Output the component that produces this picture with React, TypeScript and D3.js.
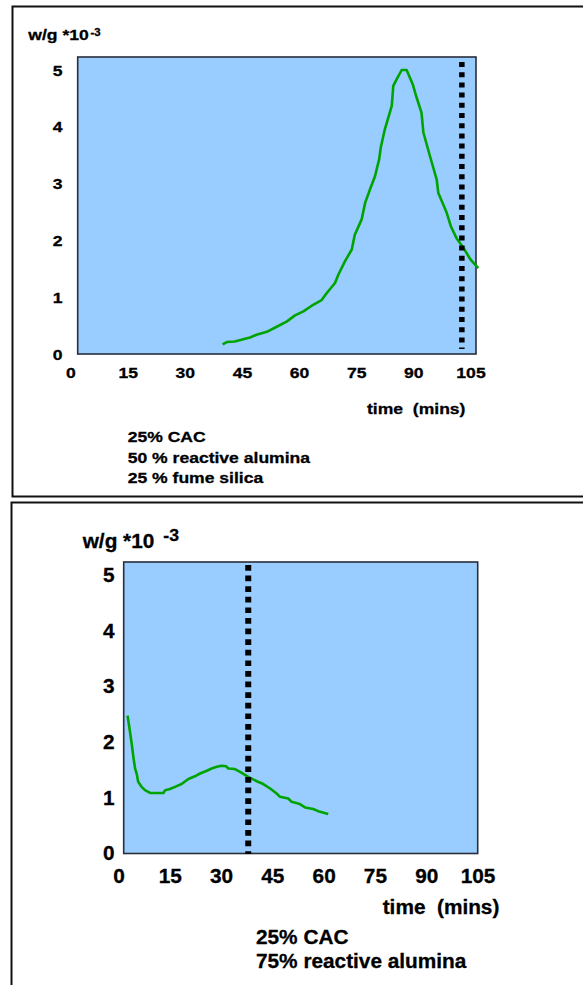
import React from "react";
import * as d3 from "d3";

// ---- data ----
const xTicks = [0, 15, 30, 45, 60, 75, 90, 105];
const yTicks = [0, 1, 2, 3, 4, 5];
const yLabel = "w/g *10";
const yLabelExp = "-3";
const xTitle = "time  (mins)";

const topTime = [39.8, 40.9, 43.0, 45.2, 47.0, 48.7, 51.4, 54.0, 56.6, 58.8, 61.0, 63.2, 65.8, 67.1, 69.3, 70.2, 71.9, 73.7, 74.5, 76.3, 77.2, 78.5, 79.8, 80.9, 81.3, 82.4, 84.2, 84.6, 85.5, 86.8, 88.1, 89.7, 90.7, 92.0, 92.5, 94.2, 96.0, 96.4, 98.6, 99.7, 101.2, 103.0, 104.9, 106.9];
const topRate = [0.17, 0.21, 0.22, 0.26, 0.29, 0.34, 0.39, 0.48, 0.57, 0.68, 0.75, 0.85, 0.95, 1.07, 1.25, 1.40, 1.63, 1.84, 2.10, 2.37, 2.66, 2.90, 3.13, 3.43, 3.63, 3.96, 4.37, 4.72, 4.84, 5.00, 5.00, 4.75, 4.52, 4.25, 3.90, 3.49, 3.07, 2.84, 2.49, 2.25, 2.04, 1.87, 1.66, 1.51];
const topMarker = 102.6;
const topNotes = ["25% CAC", "50 % reactive alumina", "25 % fume silica"];

const bottomTime = [2.5, 3.0, 3.7, 4.2, 4.7, 5.2, 5.6, 6.6, 7.6, 9.1, 11.0, 13.0, 13.5, 14.9, 16.4, 18.3, 20.3, 22.2, 23.7, 25.7, 27.1, 28.6, 30.0, 31.3, 32.0, 33.9, 35.4, 37.8, 40.3, 42.2, 44.2, 46.1, 47.1, 49.5, 50.5, 52.9, 54.4, 56.8, 58.8, 61.2];
const bottomRate = [2.47, 2.27, 1.97, 1.73, 1.52, 1.42, 1.28, 1.19, 1.13, 1.08, 1.08, 1.08, 1.13, 1.15, 1.19, 1.24, 1.33, 1.38, 1.43, 1.48, 1.52, 1.55, 1.57, 1.56, 1.52, 1.51, 1.46, 1.37, 1.29, 1.24, 1.16, 1.07, 1.01, 0.98, 0.92, 0.88, 0.82, 0.79, 0.74, 0.70];
const bottomMarker = 37.8;
const bottomNotes = ["25% CAC", "75% reactive alumina"];

// ---- layout ----
const FONT = "'Liberation Sans', Arial, Helvetica, sans-serif";
const BLUE = "#99ccff";
const GREEN = "#00a400";

type Layout = {
  plot: { x0: number; x1: number; y0: number; y1: number };
  xRange: [number, number];
  yRange: [number, number];
  fs: number;
  sx: number;
  supFs: number;
  ylab: { x: number; y: number };
  sup: { x: number; y: number };
  yTickX: number;
  xTickY: number;
  title: { x: number; y: number };
  notes: { x: number; y: number; dy: number };
  marker: { y0: number; y1: number; w: number; dash: string };
};

const topLayout: Layout = {
  plot: { x0: 77.7, x1: 476, y0: 57, y1: 354 },
  xRange: [71, 471],
  yRange: [354, 70],
  fs: 15.4,
  sx: 1.14,
  supFs: 10,
  ylab: { x: 28.3, y: 39.5 },
  sup: { x: 90.5, y: 35.5 },
  yTickX: 62.5,
  xTickY: 378,
  title: { x: 367, y: 414 },
  notes: { x: 127.7, y: 441.7, dy: 20.8 },
  marker: { y0: 62, y1: 349, w: 5.5, dash: "5 5.2" },
};

const bottomLayout: Layout = {
  plot: { x0: 123.7, x1: 477.7, y0: 562, y1: 853.5 },
  xRange: [119, 478],
  yRange: [853, 575],
  fs: 20,
  sx: 1.04,
  supFs: 17,
  ylab: { x: 82.7, y: 548 },
  sup: { x: 163.3, y: 541 },
  yTickX: 114.5,
  xTickY: 882.7,
  title: { x: 382.7, y: 914 },
  notes: { x: 256, y: 944, dy: 24 },
  marker: { y0: 565, y1: 854, w: 6, dash: "5.7 4.9" },
};

function T({ x, y, fs, sx, anchor = "start", children }: any) {
  return (
    <text
      transform={`translate(${x},${y}) scale(${sx},1)`}
      fontSize={fs}
      fontWeight="bold"
      fontFamily={FONT}
      textAnchor={anchor}
      fill="#000"
      stroke="#000"
      strokeWidth={0.3}
      style={{ whiteSpace: "pre" }}
    >
      {children}
    </text>
  );
}

function Panel({ time, rate, marker, notes, L }: { time: number[]; rate: number[]; marker: number; notes: string[]; L: Layout }) {
  const x = d3.scaleLinear().domain([0, 105]).range(L.xRange);
  const y = d3.scaleLinear().domain([0, 5]).range(L.yRange);
  const pts = time.map((t, i) => [t, rate[i]] as [number, number]);
  const path = d3
    .line<[number, number]>()
    .x((d) => x(d[0]))
    .y((d) => y(d[1]))
    .curve(d3.curveLinear)(pts) as string;
  const p = L.plot;
  return (
    <g>
      <rect x={p.x0} y={p.y0} width={p.x1 - p.x0} height={p.y1 - p.y0} fill={BLUE} stroke="#2a2d3a" strokeWidth={1.6} />
      <path d={path} fill="none" stroke={GREEN} strokeWidth={2.6} strokeLinejoin="round" />
      <line x1={x(marker)} x2={x(marker)} y1={L.marker.y0} y2={L.marker.y1} stroke="#000" strokeWidth={L.marker.w} strokeDasharray={L.marker.dash} />
      {yTicks.map((v) => (
        <T key={"y" + v} x={L.yTickX} y={y(v) + 0.36 * L.fs} fs={L.fs} sx={L.sx} anchor="end">
          {String(v)}
        </T>
      ))}
      {xTicks.map((v) => (
        <T key={"x" + v} x={x(v)} y={L.xTickY} fs={L.fs} sx={L.sx} anchor="middle">
          {String(v)}
        </T>
      ))}
      <T x={L.ylab.x} y={L.ylab.y} fs={L.fs} sx={L.sx}>
        {yLabel}
      </T>
      <T x={L.sup.x} y={L.sup.y} fs={L.supFs} sx={L.sx}>
        {yLabelExp}
      </T>
      <T x={L.title.x} y={L.title.y} fs={L.fs} sx={L.sx}>
        {xTitle}
      </T>
      {notes.map((n, i) => (
        <T key={"n" + i} x={L.notes.x} y={L.notes.y + i * L.notes.dy} fs={L.fs} sx={L.sx}>
          {n}
        </T>
      ))}
    </g>
  );
}

export default function App() {
  return (
    <svg width={583} height={985} style={{ position: "absolute", left: 0, top: 0, background: "#fff" }}>
      <rect x={0} y={0} width={583} height={985} fill="#fff" />
      <rect x={12.5} y={6.5} width={600} height={490} fill="none" stroke="#111" strokeWidth={2} />
      <rect x={11.5} y={502.5} width={600} height={520} fill="none" stroke="#111" strokeWidth={2} />
      <Panel time={topTime} rate={topRate} marker={topMarker} notes={topNotes} L={topLayout} />
      <Panel time={bottomTime} rate={bottomRate} marker={bottomMarker} notes={bottomNotes} L={bottomLayout} />
    </svg>
  );
}
